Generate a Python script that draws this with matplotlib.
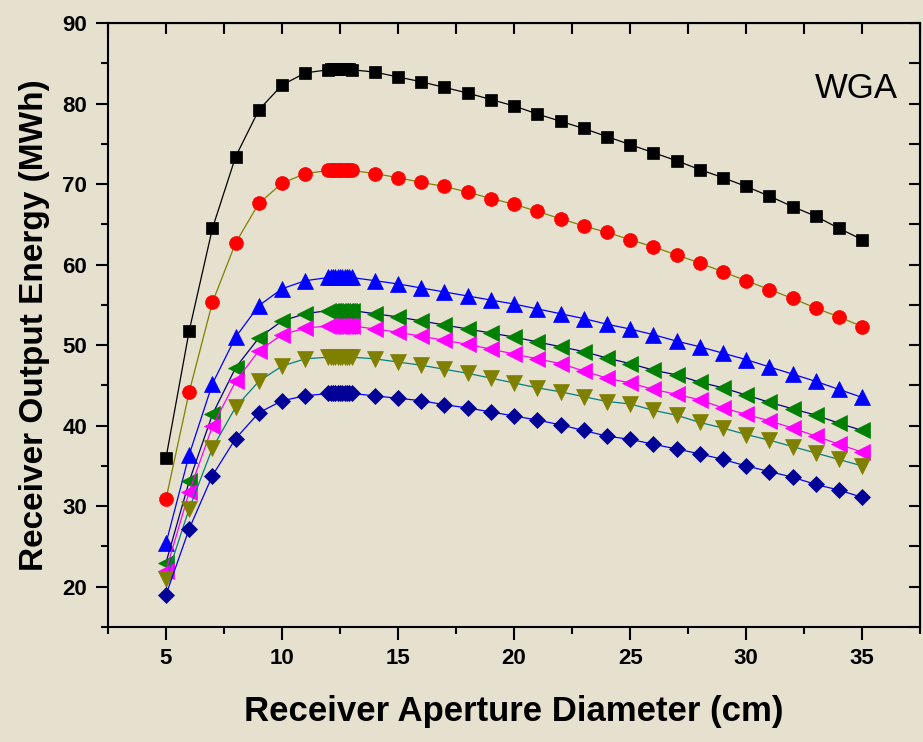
import matplotlib.pyplot as plt
from matplotlib.ticker import MultipleLocator

plt.rcParams['font.family'] = ['Liberation Sans', 'DejaVu Sans']

# Receiver aperture diameter (cm) - dense sampling around the optimum
diametro = [5, 6, 7, 8, 9, 10, 11,
            12, 12.1, 12.2, 12.3, 12.4, 12.5, 12.6, 12.7, 12.8, 12.9, 13,
            14, 15, 16, 17, 18, 19, 20, 21, 22, 23, 24,
            25, 26, 27, 28, 29, 30, 31, 32, 33, 34, 35]

# Receiver output energy (MWh) for each curve
serie_1 = [36.0, 51.8, 64.5, 73.4, 79.2, 82.3, 83.8,
           84.2, 84.3, 84.3, 84.3, 84.3, 84.3, 84.3, 84.3, 84.3, 84.3, 84.2,
           83.9, 83.3, 82.7, 82.0, 81.3, 80.5, 79.7, 78.7, 77.8, 76.9, 75.9,
           74.9, 73.9, 72.9, 71.8, 70.8, 69.7, 68.5, 67.2, 66.0, 64.5, 63.1]
serie_2 = [30.9, 44.2, 55.3, 62.7, 67.6, 70.1, 71.3,
           71.7, 71.7, 71.7, 71.7, 71.7, 71.7, 71.7, 71.7, 71.7, 71.7, 71.7,
           71.3, 70.8, 70.2, 69.7, 69.0, 68.2, 67.5, 66.6, 65.7, 64.8, 64.0,
           63.1, 62.2, 61.2, 60.2, 59.1, 58.0, 56.9, 55.8, 54.6, 53.5, 52.3]
serie_3 = [25.4, 36.4, 45.2, 51.0, 54.9, 57.0, 58.0,
           58.4, 58.4, 58.4, 58.4, 58.4, 58.4, 58.4, 58.4, 58.4, 58.4, 58.4,
           58.0, 57.6, 57.1, 56.6, 56.1, 55.6, 55.1, 54.5, 53.9, 53.3, 52.6,
           52.0, 51.3, 50.5, 49.8, 49.0, 48.2, 47.3, 46.4, 45.5, 44.5, 43.5]
serie_4 = [23.0, 33.1, 41.4, 47.2, 50.9, 53.0, 53.9,
           54.3, 54.3, 54.3, 54.3, 54.3, 54.3, 54.3, 54.3, 54.3, 54.3, 54.3,
           53.9, 53.5, 53.0, 52.5, 52.0, 51.5, 51.0, 50.4, 49.8, 49.2, 48.4,
           47.7, 46.9, 46.3, 45.4, 44.7, 43.8, 42.9, 42.1, 41.3, 40.3, 39.4]
serie_5 = [22.0, 31.8, 39.9, 45.5, 49.3, 51.3, 52.1,
           52.4, 52.4, 52.4, 52.4, 52.4, 52.4, 52.4, 52.4, 52.4, 52.4, 52.4,
           52.0, 51.6, 51.1, 50.6, 50.1, 49.5, 48.9, 48.3, 47.7, 46.8, 45.9,
           45.3, 44.5, 43.9, 43.2, 42.2, 41.4, 40.6, 39.7, 38.7, 37.7, 36.7]
serie_6 = [20.9, 29.7, 37.2, 42.3, 45.5, 47.4, 48.3,
           48.5, 48.5, 48.5, 48.5, 48.5, 48.5, 48.5, 48.5, 48.5, 48.5, 48.5,
           48.3, 47.9, 47.5, 47.0, 46.5, 45.9, 45.3, 44.7, 44.2, 43.6, 43.0,
           42.7, 41.9, 41.3, 40.4, 39.7, 38.9, 38.2, 37.4, 36.6, 35.8, 35.0]
serie_7 = [19.0, 27.2, 33.8, 38.4, 41.6, 43.1, 43.7,
           44.0, 44.0, 44.0, 44.0, 44.0, 44.0, 44.0, 44.0, 44.0, 44.0, 44.0,
           43.7, 43.4, 43.1, 42.6, 42.2, 41.7, 41.2, 40.7, 40.1, 39.4, 38.7,
           38.3, 37.7, 37.1, 36.5, 35.8, 35.0, 34.3, 33.6, 32.7, 32.0, 31.1]

series = [serie_1, serie_2, serie_3, serie_4, serie_5, serie_6, serie_7]
# (marker, marker colour, line colour, marker size)
estilos = [("s", "black", "black", 8.6),
           ("o", "red", "#808000", 10),
           ("^", "#0000ff", "#0000ff", 12),
           ("<", "#008000", "#000080", 12),
           ("<", "#ff00ff", "#ff00ff", 12),
           ("v", "#808000", "#008080", 12),
           ("D", "#000099", "#0000ff", 8.5)]

fundo = "#e6e0cf"
fig = plt.figure(figsize=(9.23, 7.42), dpi=100, facecolor=fundo)
ax = fig.add_axes([0.117, 0.155, 0.880, 0.814])
ax.set_facecolor(fundo)

for ys, (mk, mc, lc, ms) in zip(series, estilos):
    ax.plot(diametro, ys, color=lc, lw=0.9, marker=mk, markersize=ms,
            markerfacecolor=mc, markeredgecolor=mc, markeredgewidth=0.5)

ax.set_xlim(2.5, 37.5)
ax.set_ylim(15, 90)
ax.xaxis.set_major_locator(MultipleLocator(5))
ax.xaxis.set_minor_locator(MultipleLocator(2.5))
ax.yaxis.set_major_locator(MultipleLocator(10))
ax.yaxis.set_minor_locator(MultipleLocator(5))
ax.set_xticks([5, 10, 15, 20, 25, 30, 35])
ax.set_yticks([20, 30, 40, 50, 60, 70, 80, 90])
ax.tick_params(which="major", direction="out", length=9, width=1.5,
               labelsize=16, pad=6)
ax.tick_params(which="minor", direction="out", length=5, width=1.5)
for lbl in ax.get_xticklabels() + ax.get_yticklabels():
    lbl.set_fontweight("bold")
for sp in ax.spines.values():
    sp.set_linewidth(1.5)

# inner ticks on top and right
topo = ax.secondary_xaxis("top")
topo.xaxis.set_major_locator(MultipleLocator(2.5))
topo.tick_params(direction="in", length=8, width=1.5, labeltop=False)
direita = ax.secondary_yaxis("right")
direita.yaxis.set_major_locator(MultipleLocator(5))
direita.tick_params(direction="in", length=8, width=1.5, labelright=False)

ax.set_xlabel("Receiver Aperture Diameter (cm)", fontsize=25,
              fontweight="bold", labelpad=19)
ax.set_ylabel("Receiver Output Energy (MWh)", fontsize=24,
              fontweight="bold", labelpad=9)

ax.text(0.972, 0.892, "WGA", transform=ax.transAxes, fontsize=25,
        ha="right", va="center")

fig.savefig("out.png", dpi=100, facecolor=fundo)
